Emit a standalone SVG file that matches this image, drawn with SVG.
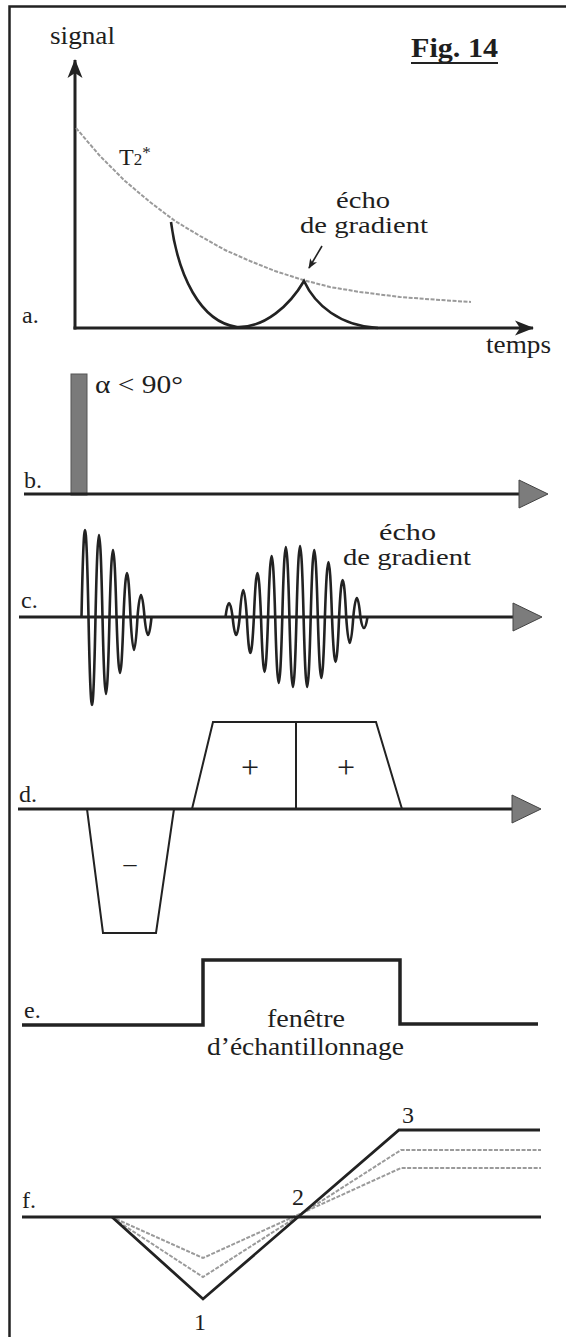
<svg xmlns="http://www.w3.org/2000/svg" width="566" height="1337" viewBox="0 0 566 1337">
<style>
text{font-family:"Liberation Serif","Times New Roman",serif;fill:#1e1e1e}
.lbl{font-size:24px}
.t{font-size:26px}
.e{font-size:23px}
.ax{stroke:#222;stroke-width:3;fill:none}
.thin{stroke:#222;stroke-width:2;fill:none}
.wave{stroke:#222;stroke-width:2.6;fill:none}
.gray{stroke:#9a9a9a;stroke-width:2;fill:none;stroke-dasharray:4 1.5}
.ah{fill:#7c7c7c;stroke:#444;stroke-width:1}
</style>
<defs>
<marker id="barb" markerUnits="userSpaceOnUse" markerWidth="22" markerHeight="18" viewBox="-20 -9 22 18" refX="0" refY="0" orient="auto">
<path d="M1,0 L-18,-7.5 L-13,0 L-18,7.5 Z" fill="#222"/>
</marker>
<marker id="barbS" markerUnits="userSpaceOnUse" markerWidth="12" markerHeight="10" viewBox="-10 -5 12 10" refX="0" refY="0" orient="auto">
<path d="M1,0 L-9,-4 L-6.5,0 L-9,4 Z" fill="#222"/>
</marker>
<path id="tri" d="M0,-14 L29,0 L0,14 Z" class="ah"/>
</defs>

<g id="frame">
<path d="M9.5,1337 V6.5 H566" stroke="#222" stroke-width="2.5" fill="none"/>
</g>

<g id="title">
<text x="411" y="57" font-size="28" font-weight="bold" textLength="87" lengthAdjust="spacingAndGlyphs">Fig. 14</text>
<line x1="411" y1="63" x2="498" y2="63" stroke="#222" stroke-width="2"/>
</g>

<g id="panel-a">
<text class="t" x="50" y="44" textLength="65" lengthAdjust="spacingAndGlyphs">signal</text>
<text class="t" x="486" y="353" textLength="65" lengthAdjust="spacingAndGlyphs">temps</text>
<text class="lbl" x="22" y="323">a.</text>
<text x="119" y="165" font-size="24">T<tspan font-size="17">2</tspan><tspan font-size="17" dy="-7">*</tspan></text>
<text class="e" x="336" y="208" textLength="54" lengthAdjust="spacingAndGlyphs">écho</text>
<text class="e" x="300" y="233" textLength="128" lengthAdjust="spacingAndGlyphs">de gradient</text>
<g id="connectors-a">
<line class="ax" x1="75" y1="329.5" x2="75" y2="60" marker-end="url(#barb)"/>
<line class="ax" x1="73.5" y1="328" x2="533" y2="328" marker-end="url(#barb)"/>
<line x1="322" y1="246" x2="309" y2="268" stroke="#222" stroke-width="1.6" marker-end="url(#barbS)"/>
</g>
<polyline class="gray" points="76,128 100,156 125,181 150,202 175,221 200,236 225,250 250,261 275,271 303,280 330,287 360,292 400,297 440,300 471,302"/>
<path class="wave" d="M171,222 C178,275 200,322 237,327 C265,328 290,305 304,281 C315,305 340,326 378,328"/>
</g>

<g id="panel-b">
<rect x="71" y="374" width="16" height="121" fill="#7a7a7a" stroke="#555" stroke-width="1"/>
<text class="t" x="95" y="393" textLength="88" lengthAdjust="spacingAndGlyphs">α &lt; 90°</text>
<text class="lbl" x="24" y="488">b.</text>
<line class="ax" x1="24" y1="494" x2="521" y2="494"/>
<use href="#tri" x="519" y="494"/>
</g>

<g id="panel-c">
<text class="lbl" x="21" y="608">c.</text>
<text class="e" x="379" y="540" textLength="57" lengthAdjust="spacingAndGlyphs">écho</text>
<text class="e" x="343" y="565" textLength="128" lengthAdjust="spacingAndGlyphs">de gradient</text>
<line class="ax" x1="19" y1="617" x2="516" y2="617"/>
<use href="#tri" x="513" y="617"/>
<path class="wave" d="M81.5,617 Q85,443 88.5,617 Q92,793 95.5,617 Q99,453 102.5,617 Q106,771 109.5,617 Q113,483 116.5,617 Q120,729 123.5,617 Q127,529 130.5,617 Q134,683 137.5,617 Q141,573 144.5,617 Q148,653 151.5,617"/>
<path class="wave" d="M225.5,617 Q229.05,589 232.6,617 Q236.15,653 239.7,617 Q243.25,563 246.8,617 Q250.35,689 253.9,617 Q257.45,529 261,617 Q264.55,727 268.1,617 Q271.65,495 275.2,617 Q278.75,749 282.3,617 Q285.85,477 289.4,617 Q292.95,757 296.5,617 Q300.05,475 303.6,617 Q307.15,757 310.7,617 Q314.25,483 317.8,617 Q321.35,739 324.9,617 Q328.45,507 332,617 Q335.55,707 339.1,617 Q342.65,543 346.2,617 Q349.75,669 353.3,617 Q356.85,579 360.4,617 Q363.95,639 367.5,617"/>
</g>

<g id="panel-d">
<text class="lbl" x="19" y="802">d.</text>
<line class="ax" x1="18" y1="809" x2="515" y2="809"/>
<use href="#tri" x="512" y="809"/>
<polyline class="thin" points="87,809 103,933 156,933 174,809"/>
<polyline class="thin" points="192,809 213,722 376,722 402,809"/>
<line class="thin" x1="296" y1="722" x2="296" y2="809"/>
<text x="250" y="778" font-size="32" text-anchor="middle">+</text>
<text x="346" y="778" font-size="32" text-anchor="middle">+</text>
<text x="130" y="872" font-size="26" text-anchor="middle">–</text>
</g>

<g id="panel-e">
<text class="lbl" x="24" y="1018">e.</text>
<polyline points="22,1025 203,1025 203,960 400,960 400,1024 538,1024" stroke="#222" stroke-width="3.5" fill="none"/>
<text class="t" x="267" y="1027" textLength="78" lengthAdjust="spacingAndGlyphs">fenêtre</text>
<text class="t" x="207" y="1055" textLength="197" lengthAdjust="spacingAndGlyphs">d’échantillonnage</text>
</g>

<g id="panel-f">
<text class="lbl" x="22" y="1208">f.</text>
<polyline class="gray" points="116,1219 203,1258 401,1168 541,1168"/>
<polyline class="gray" points="114,1219 203,1277 401,1150 541,1150"/>
<line class="ax" x1="22" y1="1217" x2="541" y2="1217"/>
<polyline points="112,1217 203,1299 399,1130 540,1130" stroke="#222" stroke-width="2.8" fill="none" stroke-linejoin="miter"/>
<text x="200" y="1330" font-size="24" text-anchor="middle">1</text>
<text x="298" y="1205" font-size="24" text-anchor="middle">2</text>
<text x="408" y="1123" font-size="24" text-anchor="middle">3</text>
</g>
</svg>
